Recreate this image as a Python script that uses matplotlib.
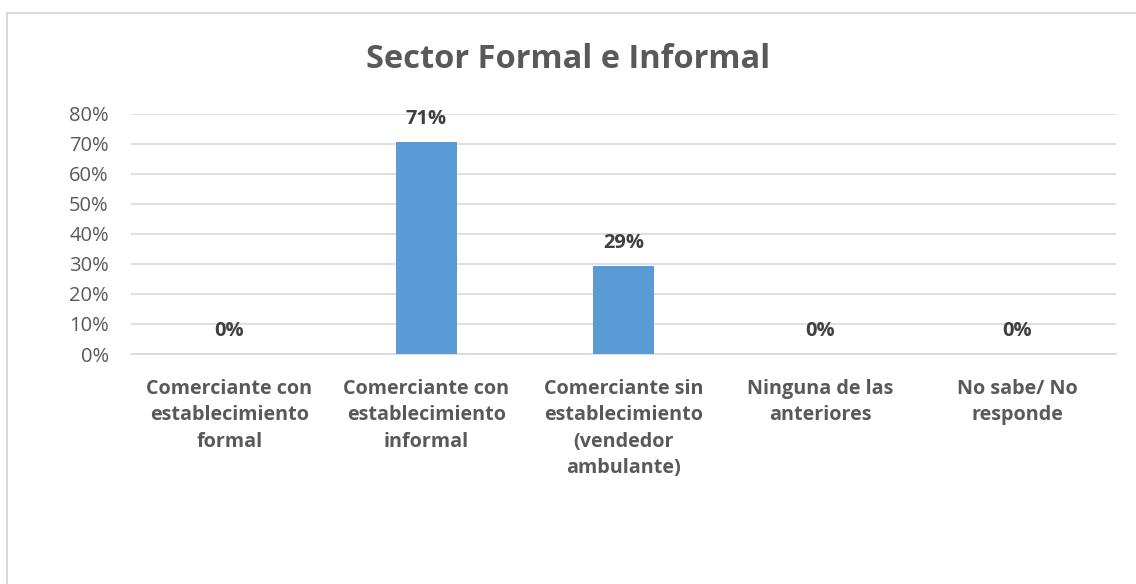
import matplotlib
matplotlib.use("Agg")
import matplotlib.pyplot as plt
from matplotlib.lines import Line2D

categories = ["Comerciante con\nestablecimiento\nformal",
              "Comerciante con\nestablecimiento\ninformal",
              "Comerciante sin\nestablecimiento\n(vendedor\nambulante)",
              "Ninguna de las\nanteriores",
              "No sabe/ No\nresponde"]
values = [0.0, 0.706, 0.294, 0.0, 0.0]
labels = ["0%", "71%", "29%", "0%", "0%"]
yticks = [0, 0.1, 0.2, 0.3, 0.4, 0.5, 0.6, 0.7, 0.8]
ytick_labels = ["0%", "10%", "20%", "30%", "40%", "50%", "60%", "70%", "80%"]

plt.rcParams['font.family'] = ['Open Sans', 'DejaVu Sans']
txt = "#595959"

fig = plt.figure(figsize=(11.36, 5.84), dpi=100)
ax = fig.add_axes([131/1136, 1 - 354/584, (1116 - 131)/1136, (354 - 113.7)/584])

x = list(range(len(categories)))
ax.bar(x, values, width=0.305, color="#5B9BD5", zorder=3)
ax.set_xlim(-0.5, len(categories) - 0.5)
ax.set_ylim(0, 0.8)
ax.set_yticks(yticks)
ax.set_yticklabels(ytick_labels, fontsize=14.5, color=txt)
ax.yaxis.grid(True, color="#D9D9D9", linewidth=1.2, zorder=0)
ax.set_axisbelow(True)
for s in ["top", "right", "left"]:
    ax.spines[s].set_visible(False)
ax.spines["bottom"].set_color("#D9D9D9")
ax.spines["bottom"].set_linewidth(1.2)
ax.tick_params(axis="y", length=0, pad=16)
ax.tick_params(axis="x", length=0, pad=18)
ax.set_xticks(x)
ax.set_xticklabels(categories, fontsize=14.2, fontweight="bold", color=txt, linespacing=1.42)

for xi, v, lab in zip(x, values, labels):
    ax.annotate(lab, (xi, v), xytext=(0, 9), textcoords="offset points",
                ha="center", va="bottom", fontsize=14.5, fontweight="bold", color="#404040")

fig.text(0.5, 1 - 59/584, "Sector Formal e Informal", ha="center", va="center",
         fontsize=23.5, fontweight="bold", color=txt)

fig.add_artist(Line2D([7/1136, 7/1136], [0, 1 - 13/584], transform=fig.transFigure,
                      color="#D9D9D9", linewidth=1.5))
fig.add_artist(Line2D([7/1136, 1], [1 - 13/584, 1 - 13/584], transform=fig.transFigure,
                      color="#D9D9D9", linewidth=1.5))

fig.savefig("out.png", dpi=100, facecolor="white")
